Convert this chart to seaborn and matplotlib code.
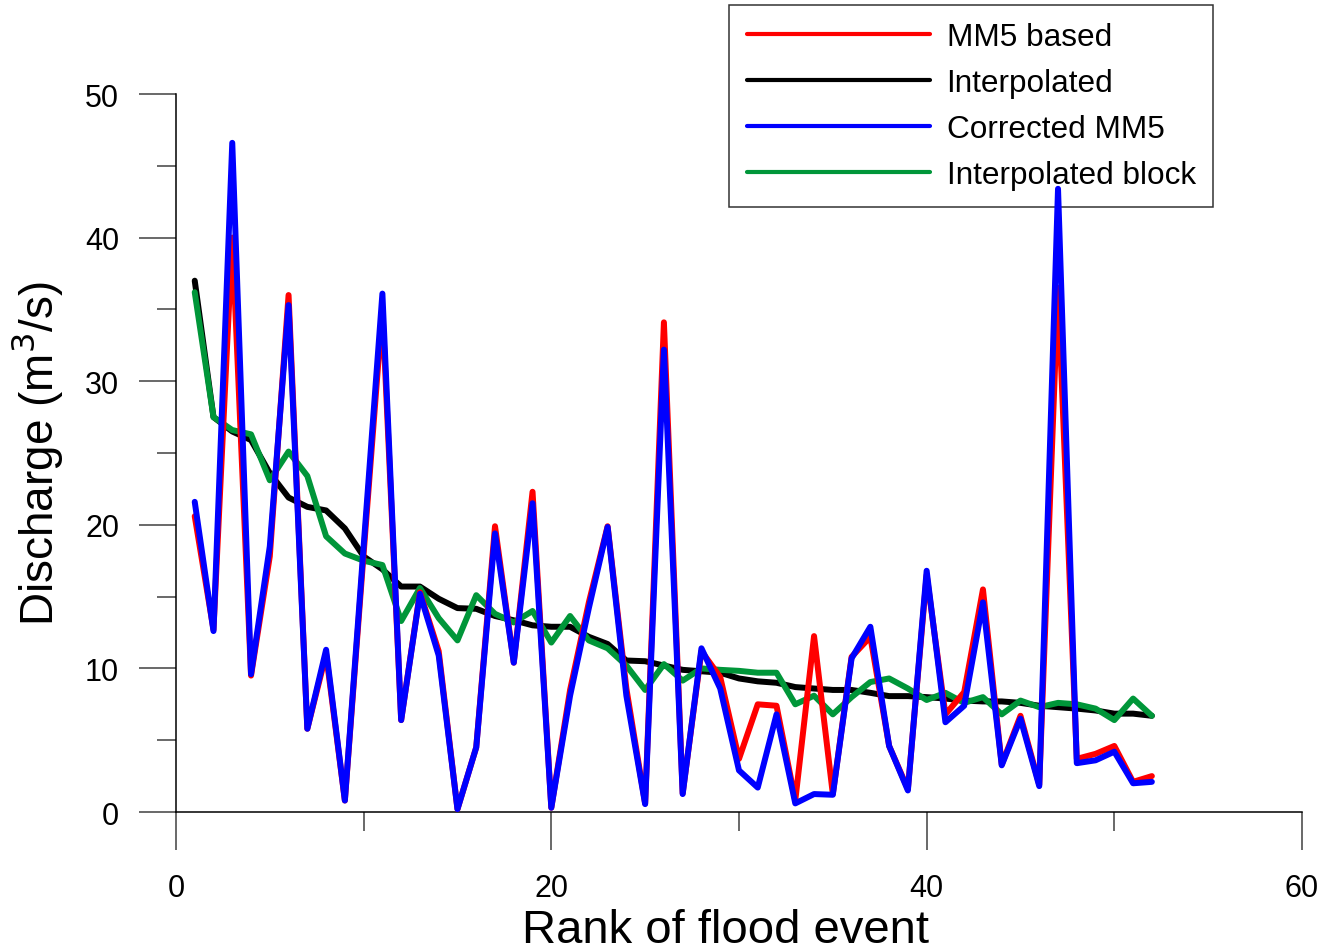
import matplotlib
matplotlib.use("Agg")
import matplotlib.pyplot as plt
from matplotlib.ticker import MultipleLocator
import seaborn as sns
import pandas as pd

rank = list(range(1, 53))

mm5_based = [20.6, 12.7, 40.0, 9.5, 17.8, 36.0, 5.8, 11.0, 0.8, 18.0,
             35.0, 6.4, 15.3, 11.2, 0.2, 4.5, 19.9, 10.4, 22.3, 0.3,
             8.5, 14.6, 19.9, 8.6, 0.6, 34.1, 1.3, 11.2, 9.4, 3.7,
             7.5, 7.4, 0.8, 12.25, 1.25, 10.8, 12.2, 4.6, 1.6, 16.5,
             6.8, 8.35, 15.5, 3.3, 6.7, 1.9, 36.5, 3.7, 4.05, 4.6,
             2.1, 2.5]

interpolated = [37.0, 27.5, 26.5, 25.9, 23.6, 21.9, 21.25, 21.0, 19.75, 17.8,
                16.9, 15.7, 15.7, 14.85, 14.2, 14.15, 13.65, 13.35, 13.0, 12.9,
                12.9, 12.2, 11.7, 10.55, 10.5, 10.2, 9.9, 9.8, 9.7, 9.3,
                9.1, 9.0, 8.7, 8.6, 8.5, 8.5, 8.3, 8.07, 8.07, 8.0,
                7.9, 7.76, 7.7, 7.7, 7.6, 7.4, 7.3, 7.2, 7.07, 6.85,
                6.85, 6.7]

corrected_mm5 = [21.6, 12.6, 46.6, 9.6, 18.5, 35.3, 5.8, 11.3, 0.8, 18.5,
                 36.1, 6.4, 15.2, 10.9, 0.2, 4.5, 19.4, 10.4, 21.5, 0.3,
                 8.1, 14.2, 19.85, 8.1, 0.55, 32.2, 1.25, 11.4, 8.6, 2.9,
                 1.7, 6.8, 0.6, 1.25, 1.2, 10.7, 12.9, 4.6, 1.5, 16.8,
                 6.25, 7.4, 14.6, 3.25, 6.5, 1.8, 43.4, 3.4, 3.6, 4.2,
                 2.0, 2.1]

interpolated_block = [36.2, 27.5, 26.6, 26.3, 23.1, 25.1, 23.4, 19.2, 18.0, 17.5,
                      17.2, 13.3, 15.6, 13.5, 11.95, 15.1, 13.8, 13.2, 14.0, 11.8,
                      13.65, 11.95, 11.4, 10.2, 8.5, 10.3, 9.15, 10.0, 9.9, 9.83,
                      9.7, 9.7, 7.5, 8.1, 6.8, 8.0, 9.05, 9.3, 8.6, 7.8,
                      8.3, 7.6, 8.0, 6.8, 7.76, 7.3, 7.6, 7.5, 7.2, 6.4,
                      7.9, 6.7]

series_names = ["MM5 based", "Interpolated", "Corrected MM5", "Interpolated block"]
series_colors = ["#FF0000", "#000000", "#0000FF", "#009639"]
series_z = [4, 2, 5, 3]

sns.set_style("white")
plt.rcParams["font.family"] = ["Liberation Sans", "DejaVu Sans"]
plt.rcParams["text.color"] = "black"
plt.rcParams["axes.labelcolor"] = "black"
plt.rcParams["xtick.labelcolor"] = "black"
plt.rcParams["ytick.labelcolor"] = "black"

fig = plt.figure(figsize=(13.26, 9.53), dpi=100)
ax = fig.add_axes([0.1327, 0.1469, 0.8492, 0.7534])

values = [mm5_based, interpolated, corrected_mm5, interpolated_block]
for name, vals, col, z in zip(series_names, values, series_colors, series_z):
    df = pd.DataFrame({"rank": rank, "q": vals})
    sns.lineplot(data=df, x="rank", y="q", ax=ax, color=col, lw=4.3,
                 label=name, zorder=z, solid_joinstyle="round",
                 solid_capstyle="round")

ax.set_xlim(0, 60)
ax.set_ylim(0, 50)
ax.xaxis.set_major_locator(MultipleLocator(20))
ax.xaxis.set_minor_locator(MultipleLocator(10))
ax.yaxis.set_major_locator(MultipleLocator(10))
ax.yaxis.set_minor_locator(MultipleLocator(5))

for s in ["top", "right"]:
    ax.spines[s].set_visible(False)
for s in ["left", "bottom"]:
    ax.spines[s].set_color("#000000")
    ax.spines[s].set_linewidth(1.1)

ax.tick_params(which="major", direction="out", length=27, width=1.1,
               color="#404040", labelsize=22, pad=14, bottom=True, left=True,
               labelcolor="black")
ax.tick_params(which="minor", direction="out", length=13.5, width=1.1,
               color="#404040", bottom=True, left=True)
ax.tick_params(axis="x", which="major", pad=17)

ax.set_xlabel("Rank of flood event", fontsize=34, color="black")
ax.set_ylabel("Discharge (m$^{3}$/s)", fontsize=33, labelpad=14, color="black")
ax.xaxis.set_label_coords(0.488, -0.134)

leg = ax.legend(loc="upper right", bbox_to_anchor=(1213 / 1326, 1 - 6 / 953),
                bbox_transform=fig.transFigure, borderaxespad=0,
                fontsize=22.7, frameon=True, fancybox=False, shadow=False,
                handlelength=5.8, handletextpad=0.54, labelspacing=0.5,
                borderpad=0.55)
leg.get_frame().set_edgecolor("#000000")
leg.get_frame().set_linewidth(1.1)
leg.set_zorder(1)
for t in leg.get_texts():
    t.set_color("black")
for h in leg.get_lines():
    h.set_linewidth(3.0)

fig.savefig("out.png", dpi=100)
